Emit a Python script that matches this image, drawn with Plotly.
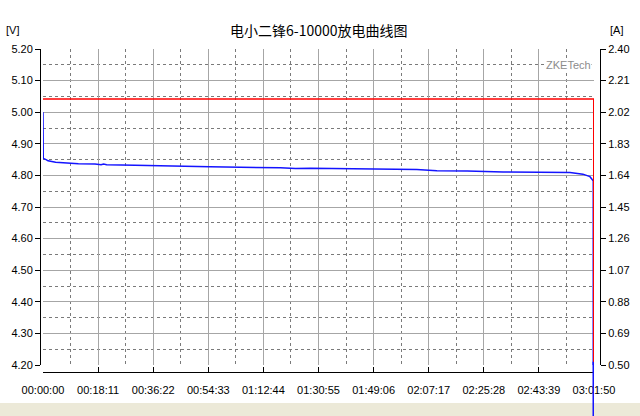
import plotly.graph_objects as go

# ---- data ----
title_text = "电小二锋6-10000放电曲线图"
x_tick_labels = ["00:00:00", "00:18:11", "00:36:22", "00:54:33", "01:12:44", "01:30:55",
                 "01:49:06", "02:07:17", "02:25:28", "02:43:39", "03:01:50"]

# voltage curve (seconds, volts)
v_time = [0, 5, 60, 100, 250, 436, 700, 1030, 1150, 1200, 1260, 1822, 2800, 3200, 3300,
          4700, 5000, 5300, 6475, 7300, 7400, 7800, 8200, 8400, 9110, 9800, 9900, 10435,
          10690, 10830, 10885, 10895, 10895]
v_volt = [5.000, 4.854, 4.850, 4.846, 4.842, 4.839, 4.837, 4.836, 4.834, 4.836, 4.834, 4.832,
          4.828, 4.826, 4.827, 4.824, 4.822, 4.823, 4.820, 4.818, 4.819, 4.815, 4.813, 4.814,
          4.811, 4.810, 4.811, 4.809, 4.804, 4.796, 4.785, 4.785, 4.00]

# current curve (seconds, amps)
i_time = [0, 10905, 10905]
i_amp = [2.10, 2.10, 0.0]

v_range = [4.20, 5.20]
i_range = [0.50, 2.40]
v_step = 0.10
i_step = 0.19


def to_sec(s):
    h, m, sec = s.split(":")
    return int(h) * 3600 + int(m) * 60 + int(sec)


x_tick_vals = [to_sec(s) for s in x_tick_labels]
x_end = x_tick_vals[-1]

# ---- layout geometry ----
W, H = 640, 416
ml, mr, mt, mb = 40, 40, 49, 44
pw, ph = W - ml - mr, H - mt - mb
x_dom = [(43 - ml) / pw, (594 - ml) / pw]
y_dom = [(H - mb - 365) / ph, 1.0]

font_tick = dict(family="Liberation Sans, Arial, sans-serif", size=11, color="#000000")
major_grid = "#A6A6A6"
minor_grid = "#7A7A7A"

fig = go.Figure()

fig.add_trace(go.Scatter(x=i_time, y=i_amp, yaxis="y2", mode="lines",
                         line=dict(color="#FF0000", width=1.5), showlegend=False,
                         hoverinfo="skip"))
fig.add_trace(go.Scatter(x=v_time, y=v_volt, mode="lines",
                         line=dict(color="#1414FF", width=1.5), showlegend=False,
                         hoverinfo="skip"))

fig.update_layout(
    width=W, height=H,
    margin=dict(l=ml, r=mr, t=mt, b=mb, pad=0),
    paper_bgcolor="white", plot_bgcolor="white",
    xaxis=dict(
        domain=x_dom, range=[0, x_end], anchor="free", position=0,
        tickmode="array", tickvals=x_tick_vals, ticktext=x_tick_labels,
        ticks="inside", ticklen=5, tickcolor="#000000", tickwidth=1,
        showline=True, linecolor="#000000", linewidth=1,
        showgrid=True, gridcolor=major_grid, gridwidth=1,
        minor=dict(tickmode="linear", tick0=0, dtick=x_tick_vals[1] / 2,
                   showgrid=True, gridcolor=minor_grid, griddash="3px,3px", gridwidth=1,
                   ticks=""),
        zeroline=False, tickfont=font_tick, ticklabelstandoff=8, automargin=False,
    ),
    yaxis=dict(
        domain=y_dom, range=v_range, anchor="free", position=0,
        tickmode="linear", tick0=v_range[0], dtick=v_step, tickformat=".2f",
        ticks="outside", ticklen=5, tickcolor="#000000",
        showline=True, linecolor="#000000", linewidth=1,
        showgrid=True, gridcolor=major_grid, gridwidth=1,
        minor=dict(tickmode="linear", tick0=v_range[0], dtick=v_step / 2,
                   showgrid=True, gridcolor=minor_grid, griddash="3px,3px", gridwidth=1,
                   ticks=""),
        zeroline=False, tickfont=font_tick, automargin=False,
    ),
    yaxis2=dict(
        overlaying="y", side="right", anchor="free", position=1,
        range=i_range, tickmode="linear", tick0=i_range[0], dtick=i_step, tickformat=".2f",
        ticks="outside", ticklen=5, tickcolor="#000000",
        showline=True, linecolor="#000000", linewidth=1,
        showgrid=False, zeroline=False, tickfont=font_tick, automargin=False,
    ),
    shapes=[
        # beige window strip at the bottom
        dict(type="rect", xref="paper", yref="paper",
             x0=-ml / pw, x1=(W - ml) / pw, y0=-mb / ph, y1=(H - mb - 403) / ph,
             fillcolor="#ECE9D8", line=dict(width=0), layer="below"),
        # blue cursor line at the end of the test
        dict(type="line", xref="x", yref="paper", x0=v_time[-1], x1=v_time[-1],
             y0=-mb / ph, y1=y_dom[0] + 0.01, line=dict(color="#1414FF", width=1.5),
             layer="above"),
    ],
    annotations=[
        dict(text=title_text, xref="paper", yref="paper",
             x=(318 - ml) / pw, y=(H - mb - 30) / ph, showarrow=False,
             xanchor="center", yanchor="middle",
             font=dict(family="Noto Sans CJK SC", size=14, color="#000000")),
        dict(text="[V]", xref="paper", yref="paper",
             x=(12 - ml) / pw, y=(H - mb - 30) / ph, showarrow=False,
             xanchor="center", yanchor="middle", font=font_tick),
        dict(text="[A]", xref="paper", yref="paper",
             x=(617 - ml) / pw, y=(H - mb - 30) / ph, showarrow=False,
             xanchor="center", yanchor="middle", font=font_tick),
        dict(text="ZKETech", xref="paper", yref="paper",
             x=(592 - ml) / pw, y=(H - mb - 65) / ph, showarrow=False,
             xanchor="right", yanchor="middle", bgcolor="white", borderpad=0,
             font=dict(family="Liberation Sans, Arial, sans-serif", size=11, color="#8C8C8C")),
    ],
)

fig.write_html("out.html",
               config={"displayModeBar": False, "staticPlot": True},
               post_script="document.body.style.margin='0';document.body.style.overflow='hidden';")
